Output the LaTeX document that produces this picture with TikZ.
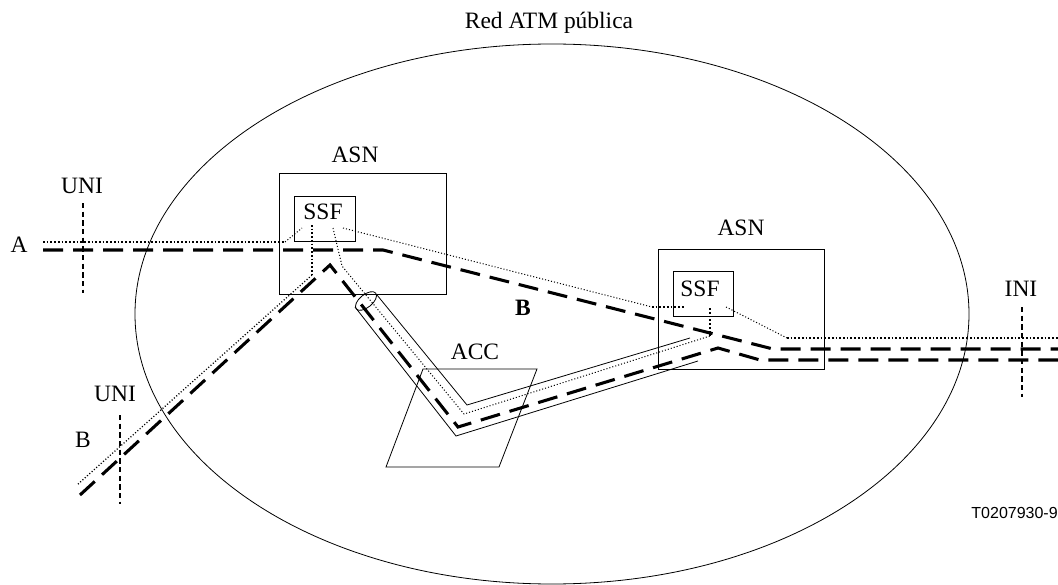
\documentclass[tikz,border=0pt]{standalone}
\usepackage{fontspec}
\setmainfont{Liberation Serif}
\newfontfamily\codesans{Liberation Sans}
\begin{document}
\begin{tikzpicture}[x=0.75pt,y=-0.75pt,
  lbl/.style={inner sep=0pt, font=\fontsize{17.6}{20}\selectfont},
  solidline/.style={line width=0.6pt},
  conn/.style={line width=2.3pt, dash pattern=on 15pt off 7.5pt},
  sigthick/.style={line width=1.4pt, dash pattern=on 1.3pt off 1.5pt},
  sigthin/.style={line width=0.75pt, dash pattern=on 0.8pt off 1.5pt},
  iface/.style={line width=1.3pt, dash pattern=on 4pt off 2.5pt},
  box/.style={draw, line width=0.6pt, inner sep=0pt}
]
\useasboundingbox (0,0) rectangle (1058,585);

% network ellipse
\coordinate (net) at (552,314);
\draw[solidline] (net) ellipse [x radius=312.75pt, y radius=202.5pt];
\node[lbl] (title) at (549,23) {Red ATM pública};

% boxes
\node[box, minimum width=125.25pt, minimum height=90.75pt] (asn1) at (362.5,233.5) {};
\node[box, minimum width=45.75pt, minimum height=33.75pt] (ssf1) at (324.5,218.5) {};
\node[box, minimum width=124.5pt, minimum height=90pt] (asn2) at (741,309) {};
\node[box, minimum width=45pt, minimum height=33.75pt] (ssf2) at (703,293.5) {};
\node[lbl] (asn1l) at (355,155) {ASN};
\node[lbl] (asn2l) at (741,228) {ASN};
\node[lbl] (ssf1l) at (323,212) {SSF};
\node[lbl] (ssf2l) at (700,289) {SSF};

% ACC parallelogram
\coordinate (acc1) at (423,369);
\coordinate (acc2) at (537,369);
\coordinate (acc3) at (499,467);
\coordinate (acc4) at (386,467);
\draw[solidline] (acc1) -- (acc2) -- (acc3) -- (acc4) -- cycle;
\node[lbl] (accl) at (475,352) {ACC};

% tube
\coordinate (e0) at (377,295);
\coordinate (e1) at (467,405);
\coordinate (e2) at (690,338);
\coordinate (f0) at (355,307);
\coordinate (f1) at (456,436);
\coordinate (f2) at (698,361);
\coordinate (tc) at (366,301);
\draw[solidline] (e0) -- (e1) -- (e2);
\draw[solidline] (f0) -- (f1) -- (f2);
\draw[solidline, rotate around={-51:(tc)}] (tc) ellipse [x radius=4.8pt, y radius=9.4pt];

% path A (connection)
\coordinate (a0) at (43,250);
\coordinate (a1) at (383,250);
\coordinate (a2) at (773,349);
\coordinate (a3) at (1058,349);
\draw[conn] (a0) -- (a1) -- (a2) -- (a3);

% path B (connection)
\coordinate (b0) at (80,495);
\coordinate (b1) at (330,265);
\coordinate (b2) at (458,427);
\coordinate (b3) at (718,348);
\coordinate (b4) at (760,360);
\coordinate (b5) at (1058,360);
\draw[conn] (b0) -- (b1) -- (b2) -- (b3) -- (b4) -- (b5);

% signalling A
\coordinate (s0) at (43,242);
\coordinate (s1) at (285,242);
\coordinate (s2) at (302,228);
\draw[sigthick] (s0) -- (s1);
\draw[sigthin] (s1) -- (s2);

% SSF1 -> SSF2
\coordinate (t0) at (343,228);
\coordinate (t1) at (652,307);
\coordinate (t2) at (685,307);
\draw[sigthin] (t0) -- (t1);
\draw[sigthick] (t1) -- (t2);

% SSF2 -> INI
\coordinate (u0) at (726,307);
\coordinate (u1) at (787,338);
\coordinate (u2) at (1058,338);
\draw[sigthin] (u0) -- (u1);
\draw[sigthick] (u1) -- (u2);

% signalling B
\coordinate (c0) at (77,485);
\coordinate (c1) at (312,275);
\coordinate (c2) at (312,225);
\draw[sigthick] (c2) -- (c1);
\draw[sigthin, line width=0.95pt] (c1) -- (c0);

% signalling through tube
\coordinate (d0) at (333,228);
\coordinate (d1) at (342,266);
\coordinate (d2) at (370,300);
\coordinate (d3) at (464,414);
\coordinate (d4) at (710,336);
\coordinate (d5) at (710,307);
\draw[sigthin] (d0) -- (d1) -- (d2) -- (d3) -- (d4);
\draw[sigthick] (d4) -- (d5);

% interfaces
\coordinate (uni1t) at (83,203);
\coordinate (uni1b) at (83,293);
\draw[iface] (uni1t) -- (uni1b);
\coordinate (uni2t) at (120,415);
\coordinate (uni2b) at (120,504);
\draw[iface] (uni2t) -- (uni2b);
\coordinate (init) at (1022,307);
\coordinate (inib) at (1022,397);
\draw[iface] (init) -- (inib);

\node[lbl] (unil1) at (82,186) {UNI};
\node[lbl] (unil2) at (115,394) {UNI};
\node[lbl] (inil) at (1021,289) {INI};
\node[lbl] (al) at (19,245) {A};
\node[lbl] (bl) at (83,440) {B};
\node[lbl, font=\fontsize{17.6}{20}\selectfont\bfseries] (bbold) at (523,308) {B};
\node[inner sep=0pt, anchor=east, font=\codesans\fontsize{12}{14}\selectfont] (code) at (1058,513) {T0207930-9};
\end{tikzpicture}
\end{document}
